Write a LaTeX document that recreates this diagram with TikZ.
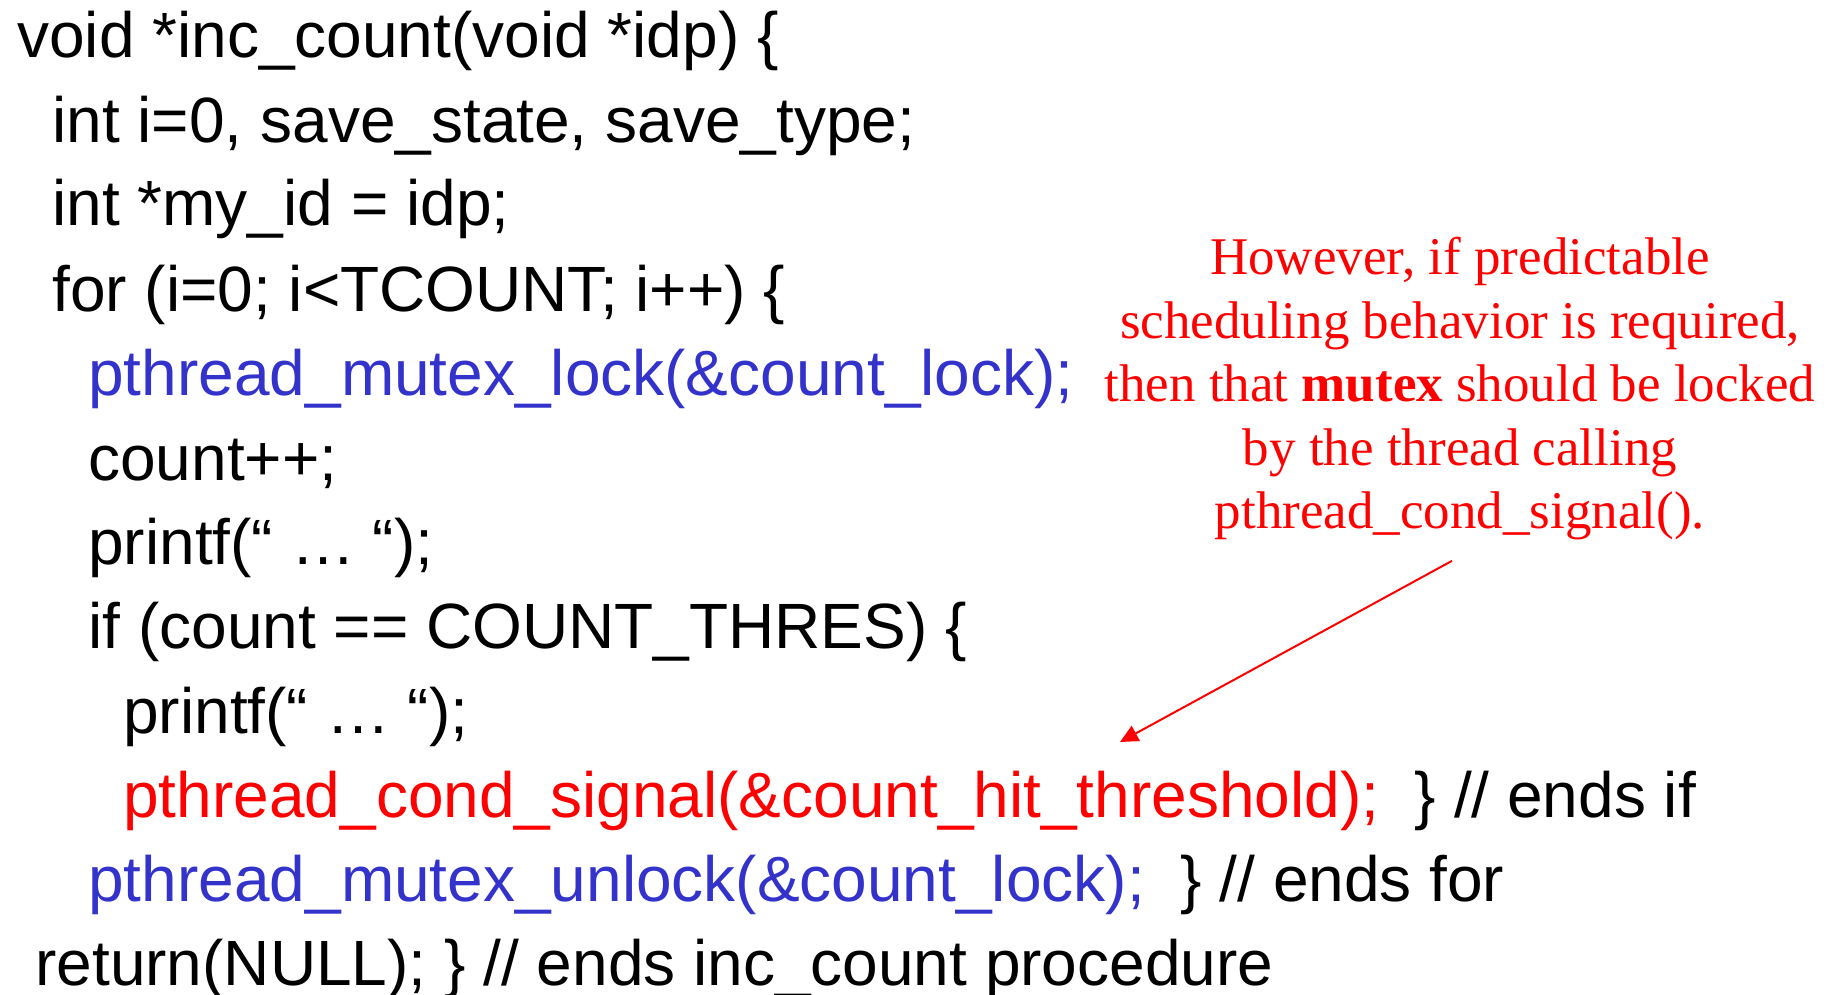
\documentclass[tikz,border=0pt]{standalone}
\usepackage{fontspec}
\setmainfont{Liberation Serif}
\newfontfamily\codefont{Liberation Sans}
\usetikzlibrary{arrows.meta}
\definecolor{lockblue}{RGB}{51,51,204}
\definecolor{sigred}{RGB}{255,0,0}

\begin{document}
\begin{tikzpicture}[x=0.5pt,y=-0.5pt,
  code/.style={anchor=base west, inner sep=0pt, text=black,
               font=\codefont\fontsize{32}{40}\selectfont},
  note/.style={anchor=base, inner sep=0pt, text=sigred,
               font=\fontsize{26.5}{32}\selectfont},
  pointer/.style={draw=sigred, line width=1pt,
                  -{Triangle[length=9pt,width=8.5pt]}}]
\useasboundingbox (0,0) rectangle (1837,995);

% the thread routine, one line per node
\node[code] (c1)  at (17,58)  {void *inc\_count(void *idp) \{};
\node[code] (c2)  at (52,142) {int i=0, save\_state, save\_type;};
\node[code] (c3)  at (52,226) {int *my\_id = idp;};
\node[code] (c4)  at (52,311) {for (i=0; i<TCOUNT; i++) \{};
\node[code, text=lockblue] (c5) at (88,395) {pthread\_mutex\_lock(\&count\_lock);};
\node[code] (c6)  at (88,480) {count++;};
\node[code] (c7)  at (88,564) {printf(“ … “);};
\node[code] (c8)  at (88,648) {if (count == COUNT\_THRES) \{};
\node[code] (c9)  at (123,733) {printf(“ … “);};
\node[code] (c10) at (123,817) {\textcolor{sigred}{pthread\_cond\_signal(\&count\_hit\_threshold);}\ \ \} // ends if};
\node[code] (c11) at (88,901) {\textcolor{lockblue}{pthread\_mutex\_unlock(\&count\_lock);}\ \ \} // ends for};
\node[code] (c12) at (35,985) {return(NULL); \} // ends inc\_count procedure};

% remark on signalling while holding the mutex
\node[note] (n1) at (1460,274) {However, if predictable};
\node[note] (n2) at (1460,338) {scheduling behavior is required,};
\node[note] (n3) at (1460,401) {then that \textbf{mutex} should be locked};
\node[note] (n4) at (1460,465) {by the thread calling};
\node[note] (n5) at (1460,528) {pthread\_cond\_signal().};

\coordinate (sig) at (1120,742);
\draw[pointer] ([xshift=-4pt,yshift=-10.5pt]n5.south) -- (sig);
\end{tikzpicture}
\end{document}
